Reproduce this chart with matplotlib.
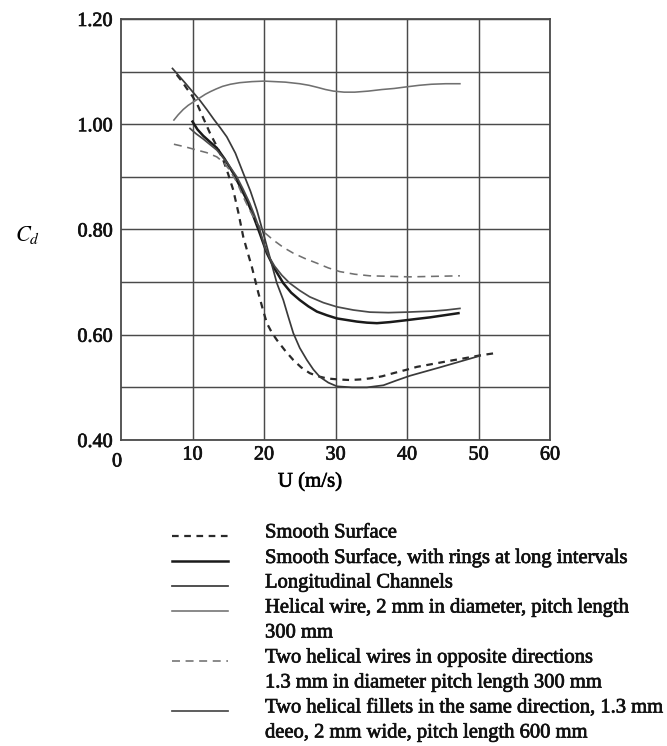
import matplotlib
matplotlib.use("Agg")
import matplotlib.pyplot as plt
from matplotlib.lines import Line2D
import matplotlib.patheffects as pe

plt.rcParams['font.family'] = ['Liberation Serif', 'DejaVu Serif']
plt.rcParams['mathtext.fontset'] = 'stix'

# ---- data ----
x_ticks = [10, 20, 30, 40, 50, 60]
x_tick_labels = ['10', '20', '30', '40', '50', '60']
y_ticks = [0.40, 0.50, 0.60, 0.70, 0.80, 0.90, 1.00, 1.10, 1.20]
y_tick_labels = ['0.40', '', '0.60', '', '0.80', '', '1.00', '', '1.20']

smooth_x = [7.8, 8.5, 9.2, 9.9, 10.6, 11.5, 12.45, 13.4, 14.3, 15.0, 15.7, 16.4, 17.1, 17.7, 18.3, 19.2, 19.8, 20.4, 21.1, 21.8, 23.0, 24.1, 25.2, 26.4, 27.6, 28.8, 30.4, 32.0, 33.4, 34.8, 36.5, 38.1, 39.8, 41.4, 43.0, 44.6, 46.2, 47.9, 50.3, 52.8]
smooth_y = [1.094, 1.082, 1.068, 1.055, 1.040, 1.012, 0.983, 0.958, 0.932, 0.905, 0.875, 0.833, 0.786, 0.757, 0.729, 0.680, 0.650, 0.622, 0.604, 0.590, 0.569, 0.552, 0.538, 0.527, 0.521, 0.517, 0.515, 0.514, 0.515, 0.517, 0.521, 0.527, 0.533, 0.539, 0.543, 0.547, 0.551, 0.555, 0.561, 0.566]

rings_x = [10.0, 10.7, 11.5, 12.4, 13.4, 14.5, 15.7, 16.6, 17.6, 18.5, 19.4, 20.4, 21.5, 22.7, 23.8, 25.0, 26.2, 27.4, 28.8, 30.2, 31.6, 33.0, 34.4, 35.8, 37.6, 39.5, 41.3, 43.2, 45.2, 47.2]
rings_y = [1.005, 0.990, 0.978, 0.967, 0.955, 0.934, 0.907, 0.883, 0.856, 0.826, 0.793, 0.755, 0.725, 0.698, 0.680, 0.666, 0.654, 0.644, 0.637, 0.631, 0.628, 0.625, 0.623, 0.622, 0.624, 0.627, 0.630, 0.633, 0.637, 0.641]

longit_x = [7.2, 8.1, 9.0, 10.0, 11.0, 12.0, 13.0, 13.9, 14.8, 16.0, 17.1, 18.1, 19.0, 19.9, 20.8, 21.8, 22.7, 23.4, 24.1, 25.0, 26.0, 26.9, 27.8, 29.0, 30.2, 32.3, 34.4, 36.7, 38.5, 40.4, 42.5, 44.6, 47.4, 50.2]
longit_y = [1.106, 1.092, 1.078, 1.062, 1.046, 1.028, 1.009, 0.993, 0.976, 0.945, 0.907, 0.873, 0.837, 0.793, 0.748, 0.698, 0.666, 0.634, 0.603, 0.575, 0.552, 0.534, 0.520, 0.509, 0.502, 0.500, 0.500, 0.504, 0.513, 0.522, 0.530, 0.538, 0.549, 0.560]

helical_x = [7.4, 8.0, 8.7, 9.4, 10.2, 11.0, 11.8, 12.5, 13.3, 14.2, 15.3, 16.6, 18.3, 20.0, 21.5, 23.0, 25.0, 26.3, 27.5, 28.6, 29.7, 31.2, 32.7, 34.6, 36.5, 38.2, 39.9, 41.7, 43.4, 45.4, 47.4]
helical_y = [1.008, 1.018, 1.028, 1.036, 1.043, 1.050, 1.057, 1.062, 1.067, 1.072, 1.076, 1.079, 1.081, 1.082, 1.081, 1.080, 1.077, 1.074, 1.070, 1.066, 1.063, 1.061, 1.061, 1.063, 1.066, 1.068, 1.071, 1.074, 1.076, 1.077, 1.077]

twowires_x = [7.4, 9.0, 10.6, 12.0, 13.4, 14.3, 15.2, 16.2, 17.1, 18.0, 19.0, 20.0, 21.3, 22.7, 24.1, 25.7, 27.4, 29.0, 30.6, 32.7, 34.8, 37.6, 40.4, 43.9, 47.4]
twowires_y = [0.962, 0.957, 0.951, 0.946, 0.938, 0.928, 0.913, 0.890, 0.862, 0.837, 0.812, 0.795, 0.780, 0.766, 0.755, 0.745, 0.736, 0.727, 0.720, 0.715, 0.712, 0.711, 0.710, 0.711, 0.712]

fillets_x = [9.65, 10.5, 11.5, 12.4, 13.4, 14.8, 16.2, 17.1, 18.0, 18.7, 19.4, 20.1, 20.8, 21.5, 22.5, 23.6, 25.0, 26.4, 28.3, 30.2, 32.5, 34.8, 37.4, 40.0, 41.8, 43.7, 45.5, 47.4]
fillets_y = [0.992, 0.982, 0.972, 0.962, 0.951, 0.928, 0.900, 0.876, 0.850, 0.826, 0.800, 0.767, 0.746, 0.730, 0.713, 0.698, 0.684, 0.672, 0.661, 0.653, 0.647, 0.643, 0.642, 0.643, 0.644, 0.645, 0.647, 0.650]

legend_labels = [
    "Smooth Surface",
    "Smooth Surface, with rings at long intervals",
    "Longitudinal Channels",
    "Helical wire, 2 mm in diameter, pitch length\n300 mm",
    "Two helical wires in opposite directions\n1.3 mm in diameter pitch length 300 mm",
    "Two helical fillets in the same direction, 1.3 mm\ndeeo, 2 mm wide, pitch length 600 mm",
]

# ---- styles ----
styles = [
    dict(color='#2a2a2a', lw=1.6, dashes=(3, 2.5)),
    dict(color='#1a1a1a', lw=1.8),
    dict(color='#3a3a3a', lw=1.25),
    dict(color='#707070', lw=1.15),
    dict(color='#707070', lw=1.15, dashes=(5, 3.5)),
    dict(color='#4a4a4a', lw=1.25),
]
series = [(smooth_x, smooth_y), (rings_x, rings_y), (longit_x, longit_y),
          (helical_x, helical_y), (twowires_x, twowires_y), (fillets_x, fillets_y)]

thick = [pe.withStroke(linewidth=0.5, foreground='#111111')]

W, H = 667, 746
fig = plt.figure(figsize=(W / 100, H / 100), dpi=100)
ax = fig.add_axes([121 / W, 1 - 440 / H, 429 / W, 421 / H])

for (xs, ys), st in zip(series, styles):
    ax.plot(xs, ys, **st, zorder=3)

ax.set_xlim(0, 60)
ax.set_ylim(0.40, 1.20)
ax.set_xticks(x_ticks)
ax.set_xticklabels(x_tick_labels)
ax.set_yticks(y_ticks)
ax.set_yticklabels(y_tick_labels)
ax.tick_params(length=0, labelsize=14.5, colors='#111111')
ax.tick_params(axis='x', pad=4)
ax.tick_params(axis='y', pad=6)
for lab in ax.get_xticklabels() + ax.get_yticklabels():
    lab.set_path_effects(thick)
ax.grid(True, color='#4a4a4a', lw=1.05, zorder=1)
for s in ax.spines.values():
    s.set_color('#4a4a4a')
    s.set_linewidth(1.3)

ax.text(-4 / 429, -22 / 421, '0', transform=ax.transAxes, ha='center', va='center',
        fontsize=14.5, color='#111111', path_effects=thick)

ax.set_xlabel('U (m/s)', fontsize=15)
ax.xaxis.set_label_coords((310 - 121) / 429, -(482 - 440) / 421)
ax.xaxis.label.set_va('center')
ax.xaxis.label.set_path_effects(thick)

fig.text(28 / W, 1 - 235 / H, r'$C_d$', fontsize=16, ha='center', va='center')

# ---- legend drawn below the axes ----
line_step = 25
y = 533
for lab, st in zip(legend_labels, styles):
    lines = lab.split('\n')
    yy = 1 - (y + 3) / H
    fig.add_artist(Line2D([172 / W, 228 / W], [yy, yy], transform=fig.transFigure, **st))
    for ln in lines:
        fig.text(265 / W, 1 - y / H, ln, fontsize=14.8, ha='left', va='center',
                 color='#111111', path_effects=thick)
        y += line_step

fig.savefig('out.png', dpi=100)
